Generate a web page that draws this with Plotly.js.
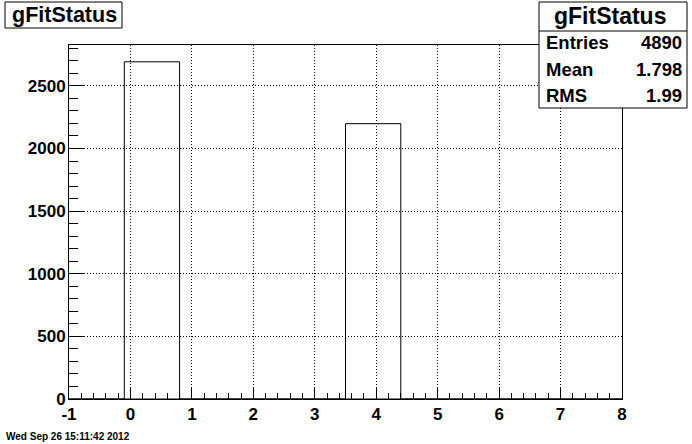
<!DOCTYPE html>
<html>
<head>
<meta charset="utf-8">
<script src="https://cdn.plot.ly/plotly-3.0.1.min.js"></script>
<style>
html,body{margin:0;padding:0;background:#fff;}
#chart{width:692px;height:444px;}
</style>
</head>
<body>
<div id="chart"></div>
<script>
// Histogram gFitStatus: 10 bins from -1 to 8 (width 0.9)
const binCenters = [-0.55, 0.35, 1.25, 2.15, 3.05, 3.95, 4.85, 5.75, 6.65, 7.55];
const binCounts  = [0, 2692, 0, 0, 0, 2198, 0, 0, 0, 0];
const binWidth = 0.9;
const histName = "gFitStatus";
const statLabels = ["Entries", "Mean", "RMS"];
const statValues = ["4890", "1.798", "1.99"];
const dateText = "Wed Sep 26 15:11:42 2012";
const xTickVals = [-1, 0, 1, 2, 3, 4, 5, 6, 7, 8];
const yTickVals = [0, 500, 1000, 1500, 2000, 2500];

const FONT = "Liberation Sans, Arial, Helvetica, sans-serif";
const L = 69, R = 70, T = 45, B = 45, W = 692, H = 444;
const PW = W - L - R, PH = H - T - B;
const px = x => (x - L) / PW;
const py = y => (H - B - y) / PH;

const trace = {
  type: "bar",
  x: binCenters,
  y: binCounts,
  width: binWidth,
  marker: {color: "rgba(0,0,0,0)", line: {color: "#000", width: 1}},
  hoverinfo: "x+y",
  showlegend: false
};

const axisCommon = {
  showline: true, mirror: true, linecolor: "#000", linewidth: 1,
  ticks: "inside", tickcolor: "#000", tickwidth: 1,
  showgrid: true, gridcolor: "#000", gridwidth: 1, griddash: "1px,2px",
  zeroline: false,
  tickfont: {family: FONT, size: 17, color: "#000", weight: "bold"},
  fixedrange: true
};

const layout = {
  width: W, height: H,
  margin: {l: L, r: R, t: T, b: B, pad: 0},
  paper_bgcolor: "#fff", plot_bgcolor: "#fff",
  showlegend: false,
  bargap: 0,
  xaxis: Object.assign({}, axisCommon, {
    range: [-1, 8],
    tickmode: "array", tickvals: xTickVals, ticktext: xTickVals.map(String),
    ticklen: 11,
    minor: {dtick: 0.2, tick0: -1, ticks: "inside", ticklen: 6, tickcolor: "#000", showgrid: false}
  }),
  yaxis: Object.assign({}, axisCommon, {
    range: [0, 2826],
    tickmode: "array", tickvals: yTickVals, ticktext: yTickVals.map(String),
    ticklen: 16,
    ticklabelstandoff: -1,
    minor: {dtick: 100, tick0: 0, ticks: "inside", ticklen: 9, tickcolor: "#000", showgrid: false}
  }),
  shapes: [
    // title box
    {type: "rect", xref: "paper", yref: "paper", x0: px(5), x1: px(122), y0: py(28), y1: py(2),
     line: {color: "#000", width: 1}, fillcolor: "#fff", layer: "above"},
    // stats box
    {type: "rect", xref: "paper", yref: "paper", x0: px(539), x1: px(687), y0: py(108), y1: py(2),
     line: {color: "#000", width: 1}, fillcolor: "#fff", layer: "above"},
    {type: "line", xref: "paper", yref: "paper", x0: px(539), x1: px(687), y0: py(31), y1: py(31),
     line: {color: "#000", width: 1}, layer: "above"}
  ],
  annotations: []
};

const ann = layout.annotations;
ann.push({xref: "paper", yref: "paper", x: px(64), y: py(15), xanchor: "center", yanchor: "middle",
  text: histName, showarrow: false, font: {family: FONT, size: 21.5, color: "#000", weight: "bold"}});
ann.push({xref: "paper", yref: "paper", x: px(610), y: py(16), xanchor: "center", yanchor: "middle",
  text: histName, showarrow: false, font: {family: FONT, size: 23, color: "#000", weight: "bold"}});
const rowY = [43, 69, 95];
statLabels.forEach((lab, i) => {
  ann.push({xref: "paper", yref: "paper", x: px(544), y: py(rowY[i]), xanchor: "left", yanchor: "middle",
    text: lab, showarrow: false, font: {family: FONT, size: 18.5, color: "#000", weight: "bold"}});
  ann.push({xref: "paper", yref: "paper", x: px(684), y: py(rowY[i]), xanchor: "right", yanchor: "middle",
    text: statValues[i], showarrow: false, font: {family: FONT, size: 18.5, color: "#000", weight: "bold"}});
});
ann.push({xref: "paper", yref: "paper", x: px(4), y: py(436), xanchor: "left", yanchor: "middle",
  text: dateText, showarrow: false, font: {family: FONT, size: 10, color: "#000", weight: "bold"}});

Plotly.newPlot("chart", [trace], layout, {displayModeBar: false, staticPlot: true});
</script>
</body>
</html>
